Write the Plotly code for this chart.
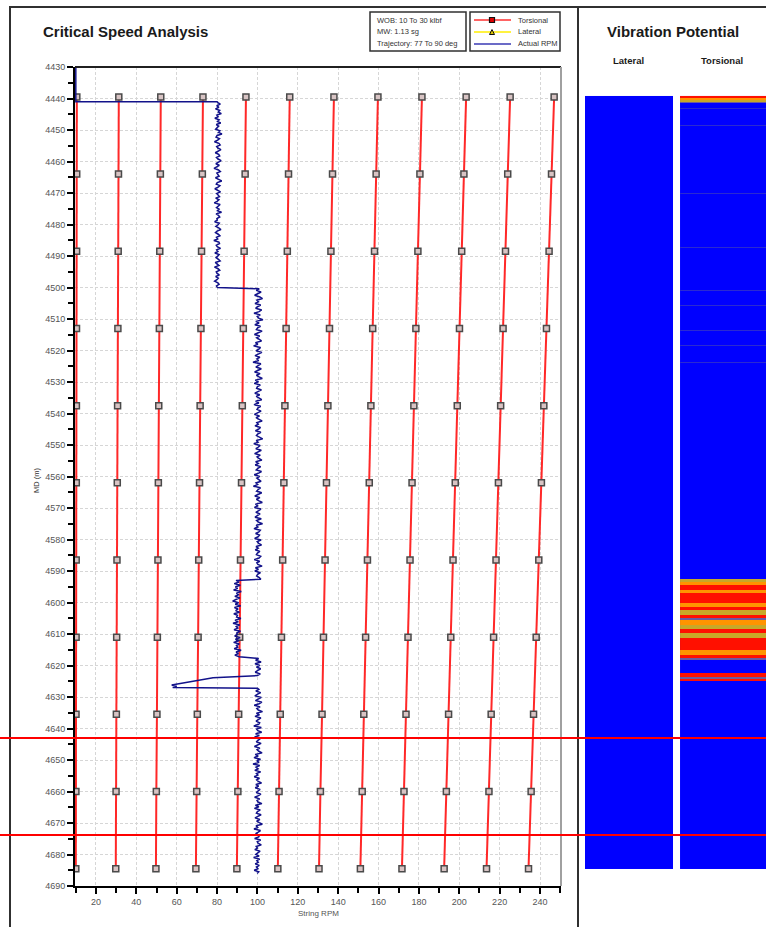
import numpy as np
import plotly.graph_objects as go

W, H = 766, 927

# ---------------- data ----------------
torsional_md = [4439.5, 4464.0, 4488.5, 4513.0, 4537.5, 4562.0, 4586.5, 4611.0, 4635.5, 4660.0, 4684.5]
torsional_modes_rpm = [
    [10.5, 10.45, 10.4, 10.35, 10.3, 10.25, 10.2, 10.15, 10.1, 10.05, 10.0],
    [31.3, 31.15, 31.0, 30.85, 30.7, 30.55, 30.4, 30.25, 30.1, 29.95, 29.8],
    [52.1, 51.9, 51.6, 51.4, 51.1, 50.9, 50.7, 50.4, 50.2, 49.9, 49.7],
    [73.0, 72.7, 72.3, 72.0, 71.6, 71.3, 70.9, 70.6, 70.2, 69.9, 69.5],
    [94.3, 93.9, 93.4, 93.0, 92.5, 92.1, 91.6, 91.2, 90.7, 90.3, 89.8],
    [116.0, 115.4, 114.8, 114.2, 113.6, 113.1, 112.5, 111.9, 111.3, 110.7, 110.1],
    [137.9, 137.2, 136.4, 135.7, 134.9, 134.2, 133.5, 132.7, 132.0, 131.2, 130.5],
    [159.7, 158.8, 158.0, 157.1, 156.2, 155.4, 154.5, 153.6, 152.7, 151.9, 151.0],
    [181.5, 180.5, 179.5, 178.5, 177.5, 176.6, 175.6, 174.6, 173.6, 172.6, 171.6],
    [203.4, 202.3, 201.2, 200.1, 199.0, 198.0, 196.9, 195.8, 194.7, 193.6, 192.5],
    [225.2, 224.0, 222.9, 221.7, 220.5, 219.4, 218.2, 217.0, 215.8, 214.7, 213.5],
    [247.0, 245.7, 244.5, 243.2, 241.9, 240.7, 239.4, 238.1, 236.8, 235.6, 234.3],
]

# Actual RPM, read segment by segment
rpm_start_md = [4430.0, 4441.0, 4441.0]
rpm_start_val = [10.0, 10.0, 80.0]
seg_a_md = (4441.3, 4500.0)
seg_a_rpm = [float(v) for v in """
80.4 81.6 79.8 80.9 79.2 81.3 80.6 82.1 79.9 80.5 78.9 81.0 80.2 81.8 79.6 80.8 80.1 79.3 81.4 80.7
82.4 80.0 79.5 81.2 80.3 78.7 80.9 81.5 79.8 80.4 81.9 80.2 79.1 80.8 81.3 79.7 80.5 82.0 80.6 79.4
81.1 80.0 78.5 80.7 81.6 79.9 80.3 81.0 79.2 80.8 82.3 80.1 79.6 81.4 80.5 78.9 80.2 81.7 79.8 80.6
81.2 79.3 80.9 80.0 78.6 81.5 80.4 79.7 81.0 80.2 82.2 79.5 80.7 81.3 79.9 80.1 78.8 81.1 80.5 79.4
80.8 81.9 80.0 79.2 80.6 81.4 79.7 80.3 78.4 80.9 81.2 79.6 80.1 81.7 79.8 80.4 78.9 81.0 80.3 79.5
80.7 81.5 79.1 80.2 80.9 78.7 80.5 81.3 79.6 80.0 81.1 79.3 80.6 79.9 78.8 80.4 81.0 79.7 80.2
""".split()]
seg_b_md = (4500.4, 4592.6)
seg_b_rpm = [float(v) for v in """
100.9 99.4 101.8 100.3 98.6 101.2 102.5 99.7 100.5 98.8 101.6 100.0 99.1 102.1 100.8 98.3 101.4 99.9
100.6 102.7 99.2 100.8 98.7 101.5 100.1 99.5 102.3 100.4 98.5 101.1 99.6 100.9 102.0 99.0 100.2 98.1
101.5 100.7 99.3 102.2 100.1 98.8 101.2 99.7 100.6 97.8 101.7 100.2 99.2 101.9 100.4 98.6 101.3 99.5
100.8 102.4 98.9 100.5 98.4 101.4 100.0 99.6 102.0 100.2 98.7 101.1 99.4 100.9 102.1 99.1 100.7 98.3
101.6 100.3 99.8 101.8 100.1 98.5 101.0 99.3 100.8 102.3 99.7 100.4 98.8 101.5 100.6 99.0 101.7 100.1
99.5 101.0 102.6 99.4 100.3 98.2 101.3 100.5 99.2 101.9 100.0 98.6 101.4 99.8 100.7 102.2 99.1 100.4
98.9 101.6 100.2 99.4 102.0 100.6 98.4 101.1 99.7 100.9 101.8 99.3 100.1 98.0 101.5 100.4 99.6 102.1
100.0 98.7 101.2 99.5 100.8 102.4 99.0 100.3 98.5 101.7 100.6 99.2 101.3 100.1 98.8 101.9 99.6 100.5
102.5 99.4 100.2 98.3 101.4 100.7 99.1 101.0 100.3 98.6 101.8 99.9 100.6 102.0 99.3 100.4 98.9 101.2
100.0 99.5 101.6 100.8 98.4 101.1 99.7 100.2 102.3 99.0 100.5 98.7 101.5 100.1 99.6 100.9 101.7
""".split()]
seg_c_md = (4593.0, 4617.2)
seg_c_rpm = [float(v) for v in """
89.4 90.9 88.5 91.5 89.1 90.2 88.2 92.0 89.6 90.6 88.8 91.3 89.3 87.7 90.7 89.0 91.7 88.6 90.4 89.2
91.1 88.3 90.1 89.7 91.8 88.9 90.5 87.9 91.2 89.5 90.3 88.4 91.6 89.8 90.0 88.7 91.4 89.1 90.8 88.2
91.0 89.6 90.2 88.5 91.9 89.4 90.6 88.8 90.9
""".split()]
seg_d_md = (4617.8, 4623.2)
seg_d_rpm = [100.6, 99.1, 101.8, 98.8, 101.2, 99.5, 101.6, 100.2, 98.9, 101.4, 100.0]
spike_md = [4623.9, 4624.6, 4625.5, 4626.2, 4626.6, 4627.0, 4627.2]
spike_rpm = [78.0, 72.0, 65.0, 57.5, 60.0, 58.0, 100.0]
seg_f_md = (4627.6, 4686.0)
seg_f_rpm = [float(v) for v in """
100.7 99.2 101.6 100.1 98.7 101.9 100.3 99.0 102.2 100.8 98.4 101.3 99.7 100.4 102.5 99.5 101.0 98.8
101.7 100.1 99.3 101.1 100.6 98.2 101.9 99.6 100.2 102.1 99.1 100.9 98.6 101.4 100.3 99.4 101.8 100.0
98.5 101.2 99.8 100.7 102.3 98.9 100.4 98.3 101.5 99.7 100.8 97.8 101.1 99.3 100.3 98.7 101.6 99.5
100.2 98.4 101.0 99.6 100.4 102.0 99.2 100.6 98.9 101.3 100.1 99.4 101.7 100.5 98.6 101.1 99.8 100.3
102.2 99.0 100.7 98.5 101.4 100.0 99.5 101.8 100.2 98.8 101.2 99.6 100.9 102.4 99.3 100.1 98.3 101.5
100.4 99.1 101.0 100.6 98.6 101.6 99.9 100.3 101.9 99.4 100.0 98.7 101.3 100.5 99.2 100.8 98.1 101.1
99.7 100.4 98.9 100.9 99.5 100.2 98.4 100.6 99.8
""".split()]

# Vibration potential bars (MD extents) and torsional bands (top, bottom, level)
vp_md_top = 4439.2
vp_md_bottom = 4684.6
tors_band_top = [4439.2, 4439.9, 4440.4, 4441.0, 4443.0, 4448.3, 4469.9, 4487.0, 4500.7, 4505.5,
                 4513.4, 4518.2, 4523.6,
                 4592.5, 4593.4, 4594.4, 4596.0, 4597.1, 4600.2, 4601.3, 4602.4, 4604.0, 4604.9,
                 4605.6, 4607.1, 4608.4, 4609.7, 4611.3, 4612.5, 4615.1, 4616.7, 4617.6,
                 4622.4, 4623.7, 4624.3]
tors_band_bottom = [4439.9, 4440.4, 4441.0, 4441.5, 4443.3, 4448.6, 4470.2, 4487.3, 4501.0, 4505.8,
                    4513.7, 4518.5, 4523.9,
                    4593.4, 4594.4, 4596.0, 4597.1, 4600.2, 4601.3, 4602.4, 4604.0, 4604.9, 4605.6,
                    4607.1, 4608.4, 4609.7, 4611.3, 4612.5, 4615.1, 4616.7, 4617.6, 4618.3,
                    4623.7, 4624.3, 4624.9]
tors_band_level = [5, 4, 3, 2, 1, 1, 1, 1, 1, 1,
                   1, 1, 1,
                   3, 4, 5, 4, 5, 4, 5, 3, 5, 2,
                   4, 3, 5, 3, 5, 5, 4, 5, 2,
                   5, 2, 5]
level_colors = ['#0000ff', '#2a2ad2', '#6c5ca0', '#c8a828', '#ff9400', '#ff1000']

# marker lines across the whole picture
red_cut_md = [4643.0, 4673.8]

x_ticks = [20, 40, 60, 80, 100, 120, 140, 160, 180, 200, 220, 240]

# ---------------- helpers ----------------
def px(x):
    return x / W


def py(y):
    return 1 - y / H


def seg(rng, vals):
    return list(np.linspace(rng[0], rng[1], len(vals)))


fig = go.Figure()

# torsional critical speed lines
for mode in torsional_modes_rpm:
    fig.add_trace(go.Scatter(
        x=mode, y=torsional_md, mode='lines+markers',
        line=dict(color='#ff2828', width=2),
        marker=dict(symbol='square', size=6, color='#d8c4c4',
                    line=dict(color='#4a4a4a', width=1.5)),
        showlegend=False, hoverinfo='skip'))

# actual RPM
act_md = (rpm_start_md + seg(seg_a_md, seg_a_rpm) + seg(seg_b_md, seg_b_rpm) + seg(seg_c_md, seg_c_rpm)
          + seg(seg_d_md, seg_d_rpm) + spike_md + seg(seg_f_md, seg_f_rpm))
act_rpm = rpm_start_val + seg_a_rpm + seg_b_rpm + seg_c_rpm + seg_d_rpm + spike_rpm + seg_f_rpm
fig.add_trace(go.Scatter(x=act_rpm, y=act_md, mode='lines',
                         line=dict(color='#12128a', width=1.5),
                         showlegend=False, hoverinfo='skip'))

# vibration potential panel
cscale = [[k / 5, c] for k, c in enumerate(level_colors)]
common = dict(colorscale=cscale, zmin=0, zmax=5, showscale=False, hoverinfo='skip',
              xaxis='x2', yaxis='y2')
fig.add_trace(go.Heatmap(x=[0, 1], y=[vp_md_top, vp_md_bottom], z=[[0]], **common))
fig.add_trace(go.Heatmap(x=[1.08, 2.2], y=[vp_md_top, vp_md_bottom], z=[[0]], **common))
edges, zrows = [], []
for t, b, lv in zip(tors_band_top, tors_band_bottom, tors_band_level):
    if edges and abs(edges[-1] - t) < 1e-9:
        edges.append(b)
    else:
        if edges:
            zrows.append([None])
        edges.extend([t, b])
    zrows.append([lv])
fig.add_trace(go.Heatmap(x=[1.08, 2.2], y=edges, z=zrows, **common))

# ---------------- layout ----------------
x_dom = [px(75), px(561)]
y_dom = [py(886), py(67)]
tickfont = dict(family='Liberation Sans, Arial', size=9, color='#555555')

fig.update_layout(
    width=W, height=H, margin=dict(l=0, r=0, t=0, b=0, pad=0, autoexpand=False),
    paper_bgcolor='white', plot_bgcolor='white',
    showlegend=False,
    xaxis=dict(domain=x_dom, range=[9.6, 250.4], tickvals=x_ticks, ticks='outside', ticklen=6,
               tickwidth=2, tickcolor='black', tickfont=tickfont, showline=True, linewidth=2,
               linecolor='black', mirror=False, showgrid=True, gridcolor='#d6d6d6', gridwidth=1,
               griddash='3px,2px', zeroline=False, automargin=False,
               minor=dict(dtick=10, tick0=0, ticks='outside', ticklen=5, tickwidth=2,
                          tickcolor='black', showgrid=False)),
    yaxis=dict(domain=y_dom, range=[4690, 4430], dtick=10, tick0=4430, ticks='outside', ticklen=6,
               tickwidth=2, tickcolor='black', tickfont=tickfont, showline=True, linewidth=2,
               linecolor='black', showgrid=True, gridcolor='#d6d6d6', gridwidth=1,
               griddash='3px,2px', zeroline=False, automargin=False,
               minor=dict(dtick=5, ticks='outside', ticklen=5, tickwidth=2, tickcolor='black',
                          showgrid=False)),
    xaxis2=dict(domain=[px(585), 1.0], range=[0, 181 / 88], visible=False, anchor='y2',
                automargin=False),
    yaxis2=dict(domain=y_dom, range=[4690, 4430], visible=False, anchor='x2', automargin=False),
)

shapes = []
# outer frames
shapes.append(dict(type='rect', xref='paper', yref='paper', x0=px(10), x1=px(578), y0=py(940),
                   y1=py(7), line=dict(color='#303030', width=2)))
shapes.append(dict(type='line', xref='paper', yref='paper', x0=px(578), x1=px(780), y0=py(7),
                   y1=py(7), line=dict(color='#303030', width=2)))
# plot frame: top black, right grey
shapes.append(dict(type='line', xref='paper', yref='paper', x0=x_dom[0], x1=x_dom[1], y0=y_dom[1],
                   y1=y_dom[1], line=dict(color='#202020', width=2)))
shapes.append(dict(type='line', xref='paper', yref='paper', x0=x_dom[1], x1=x_dom[1], y0=y_dom[0],
                   y1=y_dom[1], line=dict(color='#a0a0a0', width=2)))
# legend boxes
shapes.append(dict(type='rect', xref='paper', yref='paper', x0=px(370), x1=px(466), y0=py(51),
                   y1=py(12), line=dict(color='#303030', width=1.5)))
shapes.append(dict(type='rect', xref='paper', yref='paper', x0=px(470), x1=px(560), y0=py(51),
                   y1=py(12), line=dict(color='#303030', width=1.5)))
leg_rows = [(20, '#ff3030'), (32, '#ffee00'), (44, '#3a3ab4')]
for yy, col in leg_rows:
    shapes.append(dict(type='line', xref='paper', yref='paper', x0=px(474), x1=px(511), y0=py(yy),
                       y1=py(yy), line=dict(color=col, width=1.5)))
shapes.append(dict(type='rect', xref='paper', yref='paper', x0=px(489.5), x1=px(494.5),
                   y0=py(22.5), y1=py(17.5), fillcolor='#e00000', line=dict(color='#101010', width=1.2)))
shapes.append(dict(type='path', xref='paper', yref='paper',
                   path=f'M {px(489.5)} {py(34.5)} L {px(494.5)} {py(34.5)} L {px(492)} {py(29.5)} Z',
                   fillcolor='#d8c000', line=dict(color='#101010', width=1)))
# red cut lines
for md in red_cut_md:
    shapes.append(dict(type='line', xref='paper', yref='y', x0=0, x1=1, y0=md, y1=md,
                       line=dict(color='#ff0000', width=2)))
fig.update_layout(shapes=shapes)

ann = []
title_font = dict(family='Liberation Sans, Arial', size=15, color='#1a1a1a')
ann.append(dict(text='<b>Critical Speed Analysis</b>', x=px(41), y=py(32), xref='paper', yref='paper',
                xanchor='left', yanchor='middle', showarrow=False, font=title_font))
ann.append(dict(text='<b>Vibration Potential</b>', x=px(673), y=py(32), xref='paper', yref='paper',
                xanchor='center', yanchor='middle', showarrow=False, font=title_font))
sub_font = dict(family='Liberation Sans, Arial', size=9.5, color='#1a1a1a')
ann.append(dict(text='<b>Lateral</b>', x=px(628), y=py(60), xref='paper', yref='paper',
                xanchor='center', yanchor='middle', showarrow=False, font=sub_font))
ann.append(dict(text='<b>Torsional</b>', x=px(722), y=py(60), xref='paper', yref='paper',
                xanchor='center', yanchor='middle', showarrow=False, font=sub_font))
small = dict(family='Liberation Sans, Arial', size=7.5, color='#333333')
for yy, txt in [(20, 'WOB: 10 To 30 klbf'), (32, 'MW: 1.13 sg'), (44, 'Trajectory: 77 To 90 deg')]:
    ann.append(dict(text=txt, x=px(375), y=py(yy), xref='paper', yref='paper', xanchor='left',
                    yanchor='middle', showarrow=False, font=small))
for yy, txt in [(20, 'Torsional'), (32, 'Lateral'), (44, 'Actual RPM')]:
    ann.append(dict(text=txt, x=px(516), y=py(yy), xref='paper', yref='paper', xanchor='left',
                    yanchor='middle', showarrow=False, font=small))
ann.append(dict(text='String RPM', x=px(318), y=py(913), xref='paper', yref='paper',
                xanchor='center', yanchor='middle', showarrow=False,
                font=dict(family='Liberation Sans, Arial', size=8, color='#555555')))
ann.append(dict(text='MD (m)', x=px(36), y=py(481), xref='paper', yref='paper', textangle=-90,
                xanchor='center', yanchor='middle', showarrow=False,
                font=dict(family='Liberation Sans, Arial', size=7.5, color='#333333')))
fig.update_layout(annotations=ann)

fig.write_html("out.html", config={'displayModeBar': False},
               post_script="document.body.style.margin='0';document.body.style.overflow='hidden';")
